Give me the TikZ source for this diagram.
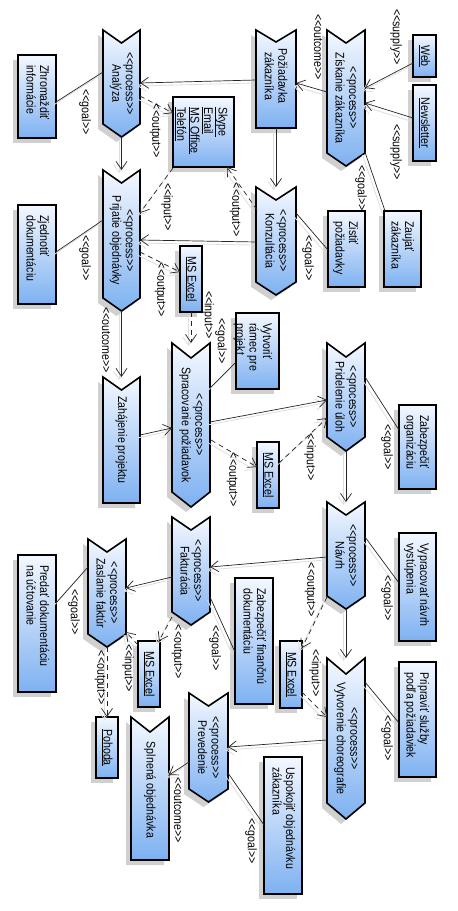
\documentclass[tikz,border=0pt]{standalone}
\usepackage{fontspec}
\setmainfont{Liberation Sans}[FakeStretch=0.85,Ligatures=TeXOff]
\usetikzlibrary{calc,arrows.meta,shadows}
\definecolor{topc}{RGB}{244,248,255}
\definecolor{botc}{RGB}{126,177,241}
\definecolor{shc}{RGB}{208,208,208}
\newcommand\sto[1]{\mbox{<}\mbox{<}#1\mbox{>}\mbox{>}}
\tikzset{
  holder/.style={rectangle, inner sep=0pt, outer sep=0pt, anchor=north west},
  boxshape/.style={holder, draw=black, line width=1.6pt, top color=topc, bottom color=botc,
    general shadow={fill=shc, shadow xshift=-5pt, shadow yshift=-5pt}},
  shapeline/.style={draw=black, line width=1.6pt, line join=miter, top color=topc, bottom color=botc},
  shapeshadow/.style={fill=shc},
  txt/.style={font=\fontsize{12.5}{13.5}\selectfont, inner sep=0pt, rotate=-90},
  lbl/.style={txt},
  lineshadow/.style={preaction={draw=black!13, line width=0.8pt, transform canvas={shift={(-2.5pt,-3pt)}}}},
  assoc/.style={draw=black!85, line width=0.7pt, lineshadow},
  flow/.style={assoc, -{Straight Barb[length=8pt,width=11pt]}},
  dep/.style={flow, dash pattern=on 5pt off 4pt},
}
% process chevron: name x1 y1 x2 y2 depth text
\newcommand\procbox[7]{%
  \node[holder, minimum width={#4pt-#2pt}, minimum height={#5pt-#3pt}] (#1) at (#2,#3) {};
  \fill[shapeshadow, shift={(-5,5)}] (#2,#3) -- ({(#2+#4)/2},{#3+#6}) -- (#4,#3) -- (#4,{#5-#6}) -- ({(#2+#4)/2},#5) -- (#2,{#5-#6}) -- cycle;
  \path[shapeline] (#2,#3) -- ({(#2+#4)/2},{#3+#6}) -- (#4,#3) -- (#4,{#5-#6}) -- ({(#2+#4)/2},#5) -- (#2,{#5-#6}) -- cycle;
  \node[txt, align=center] (#1-t) at ({(#2+#4)/2},{(#3+#5)/2}) {\sto{process}\\#7};
}
% notched flag: name x1 y1 x2 y2 depth tx ty text
\newcommand\flagbox[9]{%
  \node[holder, minimum width={#4pt-#2pt}, minimum height={#5pt-#3pt}] (#1) at (#2,#3) {};
  \fill[shapeshadow, shift={(-5,5)}] (#2,#3) -- ({(#2+#4)/2},{#3+#6}) -- (#4,#3) -- (#4,#5) -- (#2,#5) -- cycle;
  \path[shapeline] (#2,#3) -- ({(#2+#4)/2},{#3+#6}) -- (#4,#3) -- (#4,#5) -- (#2,#5) -- cycle;
  \node[txt, align=center] (#1-t) at (#7,#8) {#9};
}
% goal box: name x1 y1 x2 y2 text
\newcommand\goalbox[6]{%
  \node[boxshape, minimum width={#4pt-#2pt}, minimum height={#5pt-#3pt}] (#1) at (#2,#3) {};
  \node[txt, align=left, anchor=north west] (#1-t) at ({#4-6.5},{#3+10}) {#6};
}
% artifact box: name x1 y1 x2 y2 text
\newcommand\artbox[6]{%
  \node[boxshape, minimum width={#4pt-#2pt}, minimum height={#5pt-#3pt}] (#1) at (#2,#3) {};
  \node[txt, align=center] (#1-t) at ({(#2+#4)/2},{(#3+#5)/2}) {#6};
}
\begin{document}
\begin{tikzpicture}[x=1pt,y=-1pt]
\useasboundingbox[fill=white] (0,0) rectangle (458,911);

% ---------- shapes ----------
\procbox{ana}{103}{30}{140}{137}{13}{Analýza}
\procbox{zis}{327}{30}{365}{166}{13}{Získanie zákazníka}
\flagbox{poz}{256}{30}{296}{128}{12}{276}{76}{Požiadavka\\zákazníka}
\artbox{web}{413}{35}{436}{77}{\underline{Web}}
\artbox{news}{413}{85}{436}{161}{\underline{Newsletter}}
\node[boxshape, minimum width=61pt, minimum height=70pt] (sky) at (173,97) {};
\node[txt, align=left, anchor=north west] (sky-t) at (228,107)
  {\underline{Skype}\\\underline{Email}\\\underline{MS Office}\\\underline{Telefón}};
\goalbox{zhr}{18}{55}{56}{138}{Zhromaždiť\\informácie}
\procbox{pri}{103}{170}{140}{311}{13}{Prijatie objednávky}
\goalbox{zje}{18}{205}{56}{304}{Zjednotiť\\dokumentáciu}
\procbox{kon}{256}{187}{296}{295}{13}{Konzultácia}
\goalbox{zisti}{328}{211}{365}{287}{Zistiť\\požiadavky}
\goalbox{zauj}{384}{211}{421}{287}{Zaujať\\zákazníka}
\artbox{xla}{180}{246}{202}{312}{\underline{MS Excel}}
\flagbox{zah}{103}{377}{140}{503}{13}{121.5}{440}{Zahájenie projektu}
\procbox{spr}{172}{343}{210}{507}{15}{Spracovanie požiadavok}
\goalbox{vyt}{236}{313}{279}{389}{Vytvoriť\\rámec pre\\projekt}
\procbox{prid}{327}{343}{365}{451}{14}{Pridelenie úloh}
\goalbox{zab}{399}{405}{436}{489}{Zabezpečiť\\organizáciu}
\artbox{xlb}{257}{442}{279}{508}{\underline{MS Excel}}
\procbox{nav}{327}{502}{365}{609}{13}{Návrh}
\goalbox{vyp}{399}{533}{436}{641}{Vypracovať návrh\\vystúpenia}
\procbox{fak}{172}{517}{210}{625}{13}{Fakturácia}
\goalbox{zfin}{235}{578}{273}{704}{Zabezpečiť finančnú\\dokumentáciu}
\artbox{xlc}{280}{641}{302}{708}{\underline{MS Excel}}
\procbox{zas}{88}{539}{126}{647}{13}{Zaslanie faktúr}
\goalbox{pred}{18}{555}{56}{692}{Predať dokumentáciu\\na účtovanie}
\artbox{xld}{138}{641}{160}{707}{\underline{MS Excel}}
\artbox{poh}{96}{717}{118}{778}{\underline{Pohoda}}
\flagbox{spl}{131}{717}{169}{860}{15}{150}{790}{Splnená objednávka}
\procbox{prev}{189}{693}{228}{802}{13}{Prevedenie}
\procbox{vyc}{327}{658}{365}{819}{16}{Vytvorenie choreografie}
\goalbox{pripr}{399}{662}{436}{777}{Pripraviť služby\\podľa požiadaviek}
\goalbox{usp}{264}{757}{302}{894}{Uspokojiť objednávku\\zákazníka}

% ---------- connectors ----------
\draw[flow] ($(web.north west)+(0,28)$) -- ($(zis.north west)+(38,58)$);
\draw[flow] ($(news.north west)+(0,33)$) -- ($(zis.north west)+(38,73)$);
\draw[flow] ($(zis.north west)+(0,62)$) -- ($(poz.north west)+(40,53)$);
\draw[assoc] ($(zis.north west)+(38,122)$) -- ($(zauj.north west)+(1,0)$);
\draw[flow] ($(poz.north west)+(0,50)$) -- ($(ana.north west)+(37,53)$);
\draw[flow] ($(poz.north west)+(20,98)$) -- ($(kon.north west)+(20,0)$);
\draw[assoc] ($(ana.north west)+(0,42)$) -- ($(zhr.north west)+(38,47)$);
\draw[dep] ($(ana.north west)+(37,66)$) -- ($(sky.north west)+(0,16)$);
\draw[flow] ($(ana.north west)+(18.5,107)$) -- ($(pri.north west)+(18.5,0)$);
\draw[dep] ($(sky.north west)+(0,71)$) -- ($(pri.north west)+(37,43)$);
\draw[dep] ($(kon.north west)+(1,23)$) -- ($(sky.north west)+(54,70)$);
\draw[flow] ($(kon.north west)+(1,55)$) -- ($(pri.north west)+(37,70)$);
\draw[assoc] ($(kon.north west)+(40,26)$) -- ($(zisti.north west)+(0,39)$);
\draw[assoc] ($(pri.north west)+(0,50)$) -- ($(zje.north west)+(38,47)$);
\draw[dep] ($(pri.north west)+(37,82)$) -- ($(xla.north west)+(0,26)$);
\draw[dep] ($(xla.north west)+(11,66)$) -- ($(spr.north west)+(19,0)$);
\draw[flow] ($(pri.north west)+(18.5,141)$) -- ($(zah.north west)+(18.5,0)$);
\draw[assoc] ($(spr.north west)+(38,45)$) -- ($(vyt.north west)+(0,49)$);
\draw[flow] ($(zah.north west)+(37,58)$) -- ($(spr.north west)+(0,85)$);
\draw[flow] ($(spr.north west)+(38,79)$) -- ($(prid.north west)+(0,57)$);
\draw[dep] ($(spr.north west)+(39,97)$) -- ($(xlb.north west)+(0,25)$);
\draw[dep] ($(xlb.north west)+(22,21)$) -- ($(prid.north west)+(0,75)$);
\draw[assoc] ($(prid.north west)+(38,34)$) -- ($(zab.north west)+(0,25)$);
\draw[flow] ($(prid.north west)+(19,108)$) -- ($(nav.north west)+(19,0)$);
\draw[assoc] ($(nav.north west)+(38,35)$) -- ($(vyp.north west)+(0,50)$);
\draw[flow] ($(nav.north west)+(0,55)$) -- ($(fak.north west)+(38,50)$);
\draw[dep] ($(nav.north west)+(0,95)$) -- ($(xlc.north west)+(22,7)$);
\draw[dep] ($(xlc.north west)+(22,51)$) -- ($(vyc.north west)+(0,59)$);
\draw[flow] ($(nav.north west)+(19,107)$) -- ($(vyc.north west)+(19,0)$);
\draw[assoc] ($(vyc.north west)+(38,24)$) -- ($(pripr.north west)+(0,61)$);
\draw[flow] ($(vyc.north west)+(0,82)$) -- ($(prev.north west)+(39,54)$);
\draw[assoc] ($(prev.north west)+(39,80)$) -- ($(usp.north west)+(0,68)$);
\draw[flow] ($(prev.north west)+(0,69)$) -- ($(spl.north west)+(38,58)$);
\draw[flow] ($(fak.north west)+(0,60)$) -- ($(zas.north west)+(38,49)$);
\draw[assoc] ($(fak.north west)+(38,80)$) -- ($(zfin.north west)+(0,74)$);
\draw[dep] ($(fak.north west)+(0,100)$) -- ($(xld.north west)+(21,0)$);
\draw[dep] ($(xld.north west)+(0,4)$) -- ($(zas.north west)+(38,93)$);
\draw[dep] ($(zas.north west)+(19,108)$) -- ($(poh.north west)+(11,0)$);
\draw[assoc] ($(zas.north west)+(0,28)$) -- ($(pred.north west)+(38,48)$);

% ---------- labels ----------
\node[lbl] (l1) at (396,37) {\sto{supply}};
\node[lbl] (l2) at (396,152) {\sto{supply}};
\node[lbl] (l3) at (318,47) {\sto{outcome}};
\node[lbl] (l4) at (361,188) {\sto{goal}};
\node[lbl] (l5) at (85,112) {\sto{goal}};
\node[lbl] (l6) at (155,131) {\sto{output}};
\node[lbl] (l7) at (167,207) {\sto{input}};
\node[lbl] (l8) at (235,210) {\sto{output}};
\node[lbl] (l9) at (308,258) {\sto{goal}};
\node[lbl] (l10) at (85,258) {\sto{goal}};
\node[lbl] (l11) at (160,290) {\sto{output}};
\node[lbl] (l12) at (208,315) {\sto{input}};
\node[lbl] (l13) at (106,340) {\sto{outcome}};
\node[lbl] (l14) at (221,341) {\sto{goal}};
\node[lbl] (l15) at (232,480) {\sto{output}};
\node[lbl] (l16) at (310,457) {\sto{input}};
\node[lbl] (l17) at (387,447) {\sto{goal}};
\node[lbl] (l18) at (387,598) {\sto{goal}};
\node[lbl] (l19) at (310,590) {\sto{output}};
\node[lbl] (l20) at (315,673) {\sto{input}};
\node[lbl] (l21) at (387,738) {\sto{goal}};
\node[lbl] (l22) at (251,841) {\sto{goal}};
\node[lbl] (l23) at (178,810) {\sto{outcome}};
\node[lbl] (l24) at (215,648) {\sto{goal}};
\node[lbl] (l25) at (177,652) {\sto{output}};
\node[lbl] (l26) at (128,668) {\sto{input}};
\node[lbl] (l27) at (100,678) {\sto{output}};
\node[lbl] (l28) at (74,612) {\sto{goal}};
\end{tikzpicture}
\end{document}
